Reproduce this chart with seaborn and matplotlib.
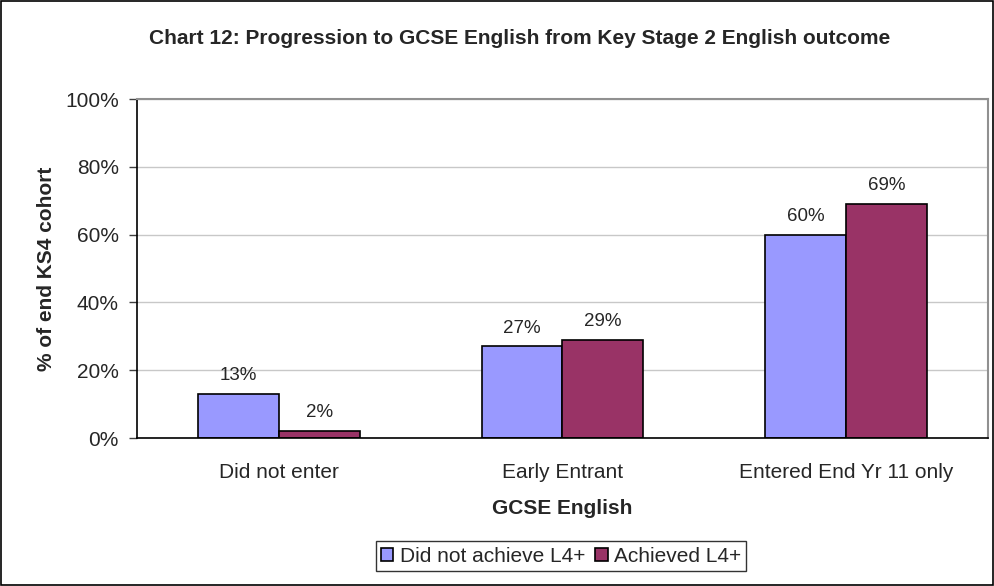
import seaborn as sns
import matplotlib.pyplot as plt
import pandas as pd
from matplotlib.patches import Rectangle

# chart values
categories = ['Did not enter', 'Early Entrant', 'Entered End Yr 11 only']
series = ['Did not achieve L4+', 'Achieved L4+']
not_achieved = [13, 27, 60]
achieved = [2, 29, 69]
yticks = [0, 20, 40, 60, 80, 100]
colors = ['#9999FF', '#993366']

df = pd.DataFrame({
    'GCSE English': categories * 2,
    'pct': not_achieved + achieved,
    'group': [series[0]] * 3 + [series[1]] * 3,
})

sns.set_style('white')
plt.rcParams['font.family'] = ['Liberation Sans', 'DejaVu Sans']

fig = plt.figure(figsize=(9.95, 5.86), dpi=100)
ax = fig.add_axes([137 / 995, 1 - 438 / 586, 851 / 995, 339 / 586])

sns.barplot(data=df, x='GCSE English', y='pct', hue='group', hue_order=series,
            palette=colors, width=0.57, edgecolor='black', linewidth=1.2,
            saturation=1, ax=ax, legend=True)

for c in ax.containers:
    ax.bar_label(c, labels=[f'{v:.0f}%' for v in c.datavalues], padding=7, fontsize=13.5)

ax.set_ylim(0, 100)
ax.set_xlim(-0.5, 2.5)
ax.set_yticks(yticks)
ax.set_yticklabels([f'{v}%' for v in yticks], fontsize=15)
ax.yaxis.grid(True, color='#C8C8C8', linewidth=1)
ax.set_axisbelow(True)

# category ticks sit between the groups, like Excel
ax.set_xticks([0, 1, 2])
ax.set_xticklabels(categories, fontsize=15)
ax.tick_params(axis='x', length=0, pad=18)
ax.set_xticks([-0.5, 0.5, 1.5, 2.5], minor=True)
ax.tick_params(axis='x', which='minor', length=6, width=1, color='#404040', direction='out')
ax.tick_params(axis='y', length=6, width=1, color='#404040', direction='out', left=True, pad=7)

for s in ['left', 'bottom']:
    ax.spines[s].set_color('black')
    ax.spines[s].set_linewidth(1.2)
for s in ['top', 'right']:
    ax.spines[s].set_color('#909090')
    ax.spines[s].set_linewidth(1.5)

ax.set_xlabel('GCSE English', fontsize=15, fontweight='bold', labelpad=12)
ax.set_ylabel('% of end KS4 cohort', fontsize=15, fontweight='bold', labelpad=6.5)

fig.suptitle('Chart 12: Progression to GCSE English from Key Stage 2 English outcome',
             x=520 / 995, y=1 - 38 / 586, va='center', fontsize=15, fontweight='bold')

ax.legend_.remove()
leg = fig.legend(*ax.get_legend_handles_labels(), loc='center', ncol=2,
                 bbox_to_anchor=(561 / 995, 1 - 556 / 586), fontsize=15,
                 frameon=True, fancybox=False, edgecolor='black',
                 handlelength=0.6, handleheight=0.6, handletextpad=0.3,
                 columnspacing=0.5, borderpad=0.25)
leg.get_frame().set_linewidth(1)

# outer chart border
fig.patches.append(Rectangle((0.001, 0.001), 0.997, 0.997, transform=fig.transFigure,
                             fill=False, edgecolor='black', linewidth=1.2))

fig.savefig('out.png', dpi=100)
